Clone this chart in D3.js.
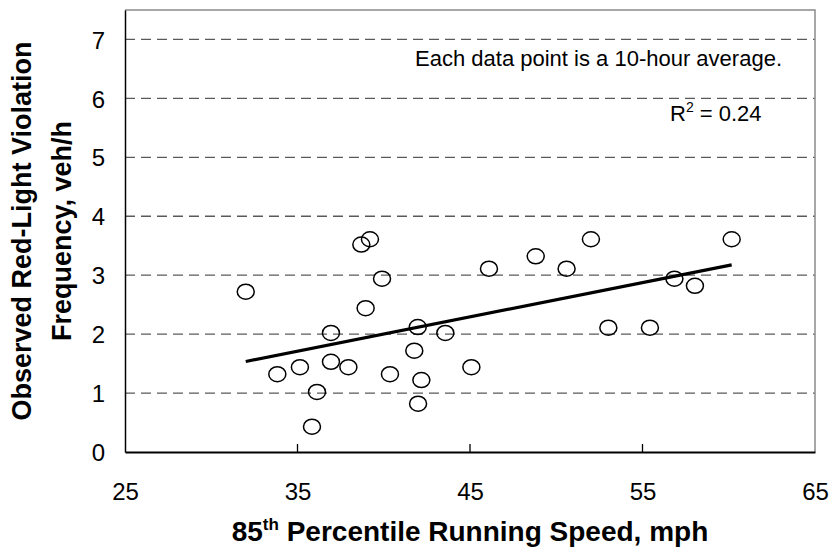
<!DOCTYPE html>
<html>
<head>
<meta charset="utf-8">
<script src="https://cdn.jsdelivr.net/npm/d3@7"></script>
<style>
  html, body { margin: 0; padding: 0; background: #fff; }
  svg { display: block; font-family: "Liberation Sans", Arial, sans-serif; }
</style>
</head>
<body>
<svg id="chart" width="833" height="548"></svg>
<script>
// ---- data ----
const speed = [32.0, 38.7, 39.2, 39.9, 38.95, 36.94, 41.97, 43.57, 41.77, 33.83,
               35.14, 36.94, 37.95, 40.36, 42.18, 45.08, 36.13, 41.99, 35.84, 46.1,
               48.81, 50.6, 52.01, 60.17, 56.85, 58.04, 53.02, 55.43];
const freq  = [2.72, 3.52, 3.61, 2.94, 2.44, 2.02, 2.12, 2.02, 1.72, 1.32,
               1.44, 1.53, 1.44, 1.32, 1.22, 1.44, 1.02, 0.82, 0.43, 3.11,
               3.32, 3.11, 3.61, 3.61, 2.94, 2.82, 2.11, 2.11];
const xTicks = [25, 35, 45, 55, 65];
const yTicks = [0, 1, 2, 3, 4, 5, 6, 7];
const xDomain = [25, 65];
const yDomain = [0, 7.5];
const yTitleLines = ["Observed Red-Light Violation", "Frequency, veh/h"];
const noteText = "Each data point is a 10-hour average.";
const r2Text = "0.24";

const svg = d3.select("#chart");
const m = { left: 125, right: 815, top: 10, bottom: 452 };

const x = d3.scaleLinear().domain(xDomain).range([m.left, m.right]);
const y = d3.scaleLinear().domain(yDomain).range([m.bottom, m.top]);

// dashed horizontal gridlines
svg.append("g").selectAll("line")
  .data(yTicks.filter(d => d > 0))
  .join("line")
  .attr("x1", m.left).attr("x2", m.right)
  .attr("y1", d => y(d)).attr("y2", d => y(d))
  .attr("stroke", "#5a5a5a").attr("stroke-width", 1.3)
  .attr("stroke-dasharray", "10,6");

// top & right border (gray)
svg.append("path")
  .attr("d", `M${m.left},${m.top}H${m.right}V${m.bottom}`)
  .attr("fill", "none").attr("stroke", "#8a8a8a").attr("stroke-width", 1.5);

// x axis
const xAxis = d3.axisBottom(x).tickValues(xTicks).tickSize(0).tickPadding(0).tickFormat(d3.format("d"));
const gx = svg.append("g").attr("transform", `translate(0,${m.bottom})`).call(xAxis);
gx.select(".domain").attr("stroke", "#000").attr("stroke-width", 2);
gx.selectAll("text").attr("font-size", 24).attr("fill", "#000")
  .attr("font-family", "Liberation Sans, Arial, sans-serif")
  .attr("dy", null).attr("y", 48);
// inner tick marks
svg.append("g").selectAll("line")
  .data(xTicks.slice(1, -1))
  .join("line")
  .attr("x1", d => x(d)).attr("x2", d => x(d))
  .attr("y1", m.bottom).attr("y2", m.bottom - 8)
  .attr("stroke", "#000").attr("stroke-width", 1.3);

// y axis
const yAxis = d3.axisLeft(y).tickValues(yTicks).tickSize(0).tickPadding(20).tickFormat(d3.format("d"));
const gy = svg.append("g").attr("transform", `translate(${m.left},0)`).call(yAxis);
gy.select(".domain").attr("stroke", "#000").attr("stroke-width", 1.5);
gy.selectAll("text").attr("font-size", 24).attr("fill", "#000")
  .attr("font-family", "Liberation Sans, Arial, sans-serif")
  .attr("dy", "0.36em");

// axis titles
const xt = svg.append("text")
  .attr("x", (m.left + m.right) / 2).attr("y", 541)
  .attr("text-anchor", "middle").attr("font-size", 28).attr("font-weight", "bold");
xt.append("tspan").text("85");
xt.append("tspan").attr("font-size", 17).attr("dy", -11).text("th");
xt.append("tspan").attr("dy", 11).text(" Percentile Running Speed, mph");

const yt = svg.append("g").attr("transform", `translate(0,${(m.top + m.bottom) / 2}) rotate(-90)`);
yt.selectAll("text").data(yTitleLines).join("text")
  .attr("x", 0).attr("y", (d, i) => 31 + i * 40)
  .attr("text-anchor", "middle").attr("font-size", 27).attr("font-weight", "bold")
  .text(d => d);

// trendline (least squares)
const mx = d3.mean(speed), my = d3.mean(freq);
const sxy = d3.sum(speed, (v, i) => (v - mx) * (freq[i] - my));
const sxx = d3.sum(speed, v => (v - mx) * (v - mx));
const slope = sxy / sxx, icpt = my - slope * mx;
const ext = d3.extent(speed);

// markers
svg.append("g").selectAll("ellipse")
  .data(speed.map((s, i) => [s, freq[i]]))
  .join("ellipse")
  .attr("cx", d => x(d[0])).attr("cy", d => y(d[1]))
  .attr("rx", 8.5).attr("ry", 7.5)
  .attr("fill", "none").attr("stroke", "#000").attr("stroke-width", 1.5);

svg.append("line")
  .attr("x1", x(ext[0])).attr("y1", y(icpt + slope * ext[0]))
  .attr("x2", x(ext[1])).attr("y2", y(icpt + slope * ext[1]))
  .attr("stroke", "#000").attr("stroke-width", 3.2);

// annotations
svg.append("text").attr("x", 782).attr("y", 66).attr("text-anchor", "end")
  .attr("font-size", 22).text(noteText);
const r2 = svg.append("text").attr("x", 670).attr("y", 121).attr("font-size", 22);
r2.append("tspan").text("R");
r2.append("tspan").attr("font-size", 14).attr("dy", -9).text("2");
r2.append("tspan").attr("dy", 9).text(" = " + r2Text);
</script>
</body>
</html>
